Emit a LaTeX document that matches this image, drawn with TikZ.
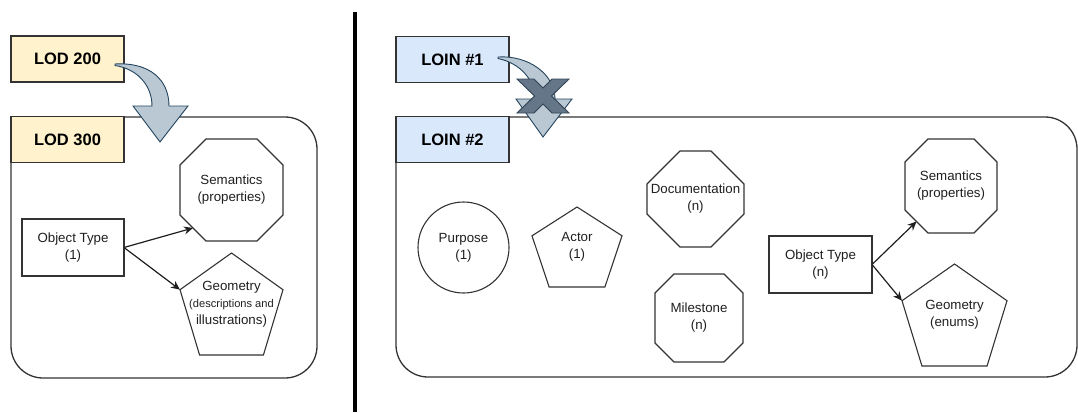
\documentclass[tikz,border=0pt]{standalone}
\usepackage{fontspec}
\setmainfont{Liberation Sans}
\usetikzlibrary{calc,arrows.meta}

\definecolor{lodfill}{HTML}{FFF2CC}
\definecolor{loinfill}{HTML}{DAE8FC}
\definecolor{edge}{HTML}{333333}
\definecolor{ink}{HTML}{1F1F1F}
\definecolor{bendfill}{HTML}{BAC8D3}
\definecolor{bendline}{HTML}{23445D}
\definecolor{crossfill}{HTML}{647687}
\definecolor{crossline}{HTML}{314354}

\tikzset{
  every node/.style={text=ink, font=\fontsize{13.3}{17}\selectfont, align=center,
    inner sep=2pt, outer sep=0pt},
  shapeline/.style={draw=edge, line width=1.1pt},
  levelbox/.style={draw=edge, line width=1.1pt, minimum width=113pt, minimum height=46pt,
    font=\bfseries\fontsize{16.5}{20}\selectfont, text=black},
  lodbox/.style={levelbox, fill=lodfill},
  loinbox/.style={levelbox, fill=loinfill},
  typebox/.style={draw=edge, line width=1.1pt, minimum width=102pt, minimum height=57pt},
  panel/.style={draw=edge, line width=1.3pt, rounded corners=32pt},
  conn/.style={draw=ink, line width=1.2pt, -{Stealth[length=9pt,width=8pt]}},
  bendband/.style={fill=bendfill, draw=bendline, line width=0.9pt},
  crossmark/.style={fill=crossfill, draw=crossline, line width=0.9pt},
}

% octagon drawn inside the box of a node: name, corner cut
\newcommand\octo[2]{%
  \draw[shapeline] ($(#1.north west)+(#2,0)$) -- ($(#1.north east)+(-#2,0)$)
    -- ($(#1.north east)+(0,#2)$) -- ($(#1.south east)+(0,-#2)$)
    -- ($(#1.south east)+(-#2,0)$) -- ($(#1.south west)+(#2,0)$)
    -- ($(#1.south west)+(0,-#2)$) -- ($(#1.north west)+(0,#2)$) -- cycle;
  \coordinate (#1-sw) at ($(#1.south west)+(#2/2,-#2/2)$);
}
% pentagon drawn inside the box of a node
\newcommand\penta[1]{%
  \coordinate (#1-t) at (#1.north);
  \coordinate (#1-l) at ($(#1.north west)!0.36!(#1.south west)$);
  \coordinate (#1-r) at ($(#1.north east)!0.36!(#1.south east)$);
  \coordinate (#1-bl) at ($(#1.south west)!0.19!(#1.south east)$);
  \coordinate (#1-br) at ($(#1.south east)!0.19!(#1.south west)$);
  \draw[shapeline] (#1-t) -- (#1-r) -- (#1-br) -- (#1-bl) -- (#1-l) -- cycle;
}

\begin{document}
\begin{tikzpicture}[x=1pt,y=-1pt]
\useasboundingbox (0,0) rectangle (1078,412);

% ---------- left: LOD ----------
\node[panel, minimum width=306pt, minimum height=261pt] (lodpanel) at (164,247.5) {};
\node[lodbox] (lod200) at (67.5,59) {LOD 200};
\node[lodbox] (lod300) at (67.5,139.5) {LOD 300};

\node[typebox] (ot1) at (73,247.5) {Object Type\\(1)};
\node[minimum width=103pt, minimum height=102pt] (semL) at (231.5,190) {Semantics\\(properties)};
\octo{semL}{26}
\node[minimum width=103pt, minimum height=102pt] (geoL) at (231.5,304)
  {Geometry\\\fontsize{11.1}{17}\selectfont(descriptions and\\illustrations)};
\penta{geoL}

\draw[conn] (ot1.east) -- (semL-sw);
\draw[conn] (ot1.east) -- (geoL-l);

% curved arrow LOD 200 -> LOD 300
\path[bendband] (115,64) .. controls (150,62) and (169,80) .. (169,106) -- (188,106)
  -- (160,142) -- (133,106) -- (152,106) .. controls (152,86) and (138,69) .. (115,65.5) -- cycle;

% ---------- divider ----------
\coordinate (divtop) at (355,12);
\coordinate (divbot) at (355,412);
\draw[line width=4pt, black] (divtop) -- (divbot);

% ---------- right: LOIN ----------
\node[panel, minimum width=681pt, minimum height=260pt] (loinpanel) at (736.5,247) {};
\node[loinbox] (loin1) at (452.5,59.5) {LOIN \#1};
\node[loinbox] (loin2) at (452.5,139.5) {LOIN \#2};

\node[circle, shapeline, minimum size=91pt] (purpose) at (463.5,247.5) {Purpose\\(1)};
\node[minimum width=90pt, minimum height=80pt] (actor) at (577,247) {Actor\\(1)};
\penta{actor}
\node[minimum width=97pt, minimum height=96pt] (doc) at (695.5,199) {Documentation\\(n)};
\octo{doc}{33}
\node[minimum width=88pt, minimum height=88pt] (mile) at (699,318) {Milestone\\(n)};
\octo{mile}{19}

\node[typebox, minimum width=103pt] (otn) at (820.5,264.5) {Object Type\\(n)};
\node[minimum width=92pt, minimum height=94pt] (semR) at (951,186) {Semantics\\(properties)};
\octo{semR}{23}
\node[minimum width=105pt, minimum height=102pt] (geoR) at (954.5,315) {Geometry\\(enums)};
\penta{geoR}

\draw[conn] (otn.east) -- (semR-sw);
\draw[conn] (otn.east) -- (geoR-l);

% struck-out curved arrow LOIN #1 -> LOIN #2
\path[bendband] (498,57) .. controls (528,55) and (555,74) .. (555,99) -- (572,99)
  -- (543,137) -- (516,99) -- (535,99) .. controls (535,80) and (520,63) .. (498,58.5) -- cycle;
\path[crossmark] (517,79) -- (534,79) -- (543,88) -- (552,79) -- (569,79) -- (551.5,96)
  -- (569,113) -- (552,113) -- (543,104) -- (534,113) -- (517,113) -- (534.5,96) -- cycle;
\end{tikzpicture}
\end{document}
